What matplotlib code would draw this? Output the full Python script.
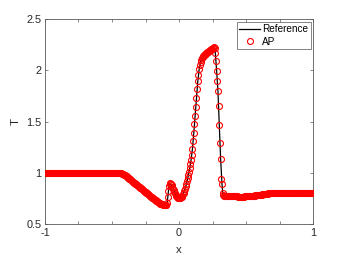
import numpy as np
import matplotlib
matplotlib.use("Agg")
import matplotlib.pyplot as plt

plt.rcParams["font.family"] = ["Liberation Sans", "DejaVu Sans"]

# AP solution, uniform grid h = 0.005 on [-1, 1] (401 nodes)
ap_T = [
    # x = -1.000 ... -0.455
    1.000, 1.000, 1.000, 1.000, 1.000, 1.000, 1.000, 1.000, 1.000, 1.000,
    1.000, 1.000, 1.000, 1.000, 1.000, 1.000, 1.000, 1.000, 1.000, 1.000,
    1.000, 1.000, 1.000, 1.000, 1.000, 1.000, 1.000, 1.000, 1.000, 1.000,
    1.000, 1.000, 1.000, 1.000, 1.000, 1.000, 1.000, 1.000, 1.000, 1.000,
    1.000, 1.000, 1.000, 1.000, 1.000, 1.000, 1.000, 1.000, 1.000, 1.000,
    1.000, 1.000, 1.000, 1.000, 1.000, 1.000, 1.000, 1.000, 1.000, 1.000,
    1.000, 1.000, 1.000, 1.000, 1.000, 1.000, 1.000, 1.000, 1.000, 1.000,
    1.000, 1.000, 1.000, 1.000, 1.000, 1.000, 1.000, 1.000, 1.000, 1.000,
    1.000, 1.000, 1.000, 1.000, 1.000, 1.000, 1.000, 1.000, 1.000, 1.000,
    1.000, 1.000, 1.000, 1.000, 1.000, 1.000, 1.000, 1.000, 1.000, 1.000,
    1.000, 1.000, 1.000, 1.000, 1.000, 1.000, 1.000, 1.000, 1.000, 1.000,
    # x = -0.450 ... -0.095
    1.000, 0.999, 0.998, 0.997, 0.995, 0.993, 0.990, 0.987, 0.983, 0.979,
    0.975, 0.970, 0.965, 0.960, 0.955, 0.949, 0.944, 0.938, 0.933, 0.927,
    0.922, 0.916, 0.911, 0.905, 0.900, 0.894, 0.889, 0.883, 0.878, 0.872,
    0.867, 0.861, 0.856, 0.850, 0.845, 0.839, 0.834, 0.828, 0.823, 0.817,
    0.812, 0.806, 0.801, 0.795, 0.790, 0.784, 0.779, 0.774, 0.768, 0.763,
    0.758, 0.753, 0.748, 0.743, 0.738, 0.733, 0.728, 0.723, 0.718, 0.714,
    0.709, 0.705, 0.701, 0.698, 0.695, 0.692, 0.690, 0.688, 0.687, 0.686,
    0.686, 0.688,
    # x = -0.090 ... 0.335
    0.705, 0.765, 0.820, 0.870, 0.893, 0.897, 0.890, 0.878, 0.863, 0.847,
    0.831, 0.816, 0.801, 0.788, 0.777, 0.767, 0.759, 0.754, 0.751, 0.751,
    0.754, 0.760, 0.768, 0.779, 0.792, 0.808, 0.826, 0.846, 0.868, 0.892,
    0.918, 0.947, 0.978, 1.012, 1.048, 1.087, 1.128, 1.170, 1.235, 1.310,
    1.390, 1.475, 1.560, 1.645, 1.730, 1.815, 1.895, 1.960, 2.010, 2.050,
    2.080, 2.102, 2.118, 2.130, 2.140, 2.148, 2.155, 2.162, 2.168, 2.173,
    2.178, 2.183, 2.188, 2.193, 2.197, 2.202, 2.207, 2.212, 2.217, 2.222,
    2.225, 2.215, 2.175, 2.090, 1.990, 1.900, 1.800, 1.650, 1.470, 1.290,
    1.140, 0.945, 0.895, 0.800, 0.782, 0.778,
    # x = 0.340 ... 1.000
    0.777, 0.776, 0.776, 0.775, 0.775, 0.774, 0.774, 0.773, 0.773, 0.773,
    0.772, 0.772, 0.772,
    0.771, 0.771, 0.771, 0.770, 0.770, 0.770, 0.770, 0.769, 0.769, 0.769,
    0.769, 0.769, 0.769, 0.769, 0.769, 0.769, 0.769, 0.770, 0.770, 0.770,
    0.770, 0.771, 0.771, 0.772, 0.772, 0.773, 0.774, 0.774, 0.775, 0.776,
    0.777, 0.778, 0.779, 0.780, 0.781, 0.782, 0.783, 0.784, 0.785, 0.786,
    0.787, 0.788, 0.789, 0.790, 0.791, 0.792, 0.793, 0.794, 0.795, 0.796,
    0.797, 0.798, 0.799, 0.800, 0.801, 0.802, 0.802, 0.803, 0.803, 0.804,
    0.804, 0.805, 0.805, 0.805, 0.806, 0.806, 0.806, 0.806, 0.807, 0.807,
    0.807, 0.807, 0.807, 0.807, 0.807, 0.807, 0.807, 0.807, 0.807, 0.807,
    0.807, 0.807, 0.807, 0.807, 0.807, 0.807, 0.806, 0.806, 0.806, 0.806,
    0.806, 0.806, 0.806, 0.806, 0.806, 0.806, 0.806, 0.806, 0.805, 0.805,
    0.805, 0.805, 0.805, 0.805, 0.805, 0.805, 0.805, 0.804, 0.804, 0.804,
    0.804, 0.804, 0.804, 0.804, 0.804, 0.804, 0.804, 0.803, 0.803, 0.803,
]
ap_x = np.round(np.arange(len(ap_T)) * 0.005 - 1.0, 3)

# reference solution, key points
ref_x = [-1.0, -0.45, -0.42, -0.40, -0.38, -0.35, -0.30, -0.25, -0.20, -0.17,
         -0.15, -0.13, -0.11, -0.095, -0.09, -0.085, -0.08, -0.075, -0.07, -0.065,
         -0.06, -0.05, -0.04, -0.03, -0.02, -0.01, 0.0, 0.01, 0.02, 0.03,
         0.04, 0.05, 0.06, 0.07, 0.08, 0.09, 0.10, 0.11, 0.12, 0.13,
         0.14, 0.15, 0.16, 0.17, 0.18, 0.20, 0.22, 0.24, 0.26, 0.265,
         0.27, 0.28, 0.29, 0.30, 0.31, 0.32, 0.327, 0.335, 0.40, 0.50,
         0.60, 0.70, 0.75, 0.80, 0.90, 1.0]
ref_T = [1.0, 1.0, 0.990, 0.975, 0.955, 0.922, 0.867, 0.812, 0.758, 0.728,
         0.709, 0.695, 0.687, 0.686, 0.690, 0.750, 0.815, 0.868, 0.893, 0.897,
         0.890, 0.863, 0.831, 0.801, 0.777, 0.759, 0.751, 0.754, 0.768, 0.792,
         0.826, 0.868, 0.918, 0.978, 1.048, 1.128, 1.235, 1.390, 1.560, 1.730,
         1.895, 2.010, 2.080, 2.118, 2.140, 2.168, 2.188, 2.207, 2.225, 2.218,
         2.180, 2.000, 1.800, 1.470, 1.140, 0.895, 0.782, 0.777, 0.772, 0.770,
         0.786, 0.804, 0.806, 0.807, 0.806, 0.803]

fig = plt.figure(figsize=(3.46, 2.60), dpi=100)
ax = fig.add_axes([0.130, 0.138, 0.775, 0.788])

ax.plot(ref_x, ref_T, color="k", lw=0.9, label="Reference", zorder=2)
ax.plot(ap_x, ap_T, ls="none", marker="o", ms=4.3, mfc="none", mec="r",
        mew=0.8, label="AP", zorder=3)

ax.set_xlim(-1, 1)
ax.set_ylim(0.5, 2.5)
xt = [-1, -0.75, -0.5, -0.25, 0, 0.25, 0.5, 0.75, 1]
ax.set_xticks(xt)
ax.set_xticklabels(["-1", "", "", "", "0", "", "", "", "1"])
ax.set_yticks([0.5, 1, 1.5, 2, 2.5])
ax.set_yticklabels(["0.5", "1", "1.5", "2", "2.5"])

axc = "0.35"
for s in ax.spines.values():
    s.set_color(axc)
    s.set_linewidth(0.6)
ax.tick_params(direction="in", length=2.5, width=0.5, colors=axc,
               labelcolor="0.15", labelsize=7.8, top=True, right=True, pad=2.5)
ax.set_xlabel("x", fontsize=8.2, color="0.15", labelpad=5)
ax.set_ylabel("T", fontsize=8.2, color="0.15", labelpad=4)

leg = ax.legend(loc="upper right", fontsize=7.2, frameon=True, fancybox=False,
                borderaxespad=0.25, handlelength=2.1, handletextpad=0.2,
                borderpad=0.25, labelspacing=0.25)
leg.get_frame().set_edgecolor("0.3")
leg.get_frame().set_linewidth(0.6)

fig.savefig("out.png", dpi=100)
